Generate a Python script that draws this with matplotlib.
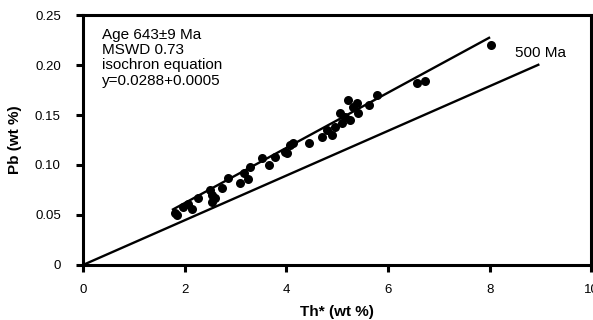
import numpy as np
import matplotlib.pyplot as plt

plt.rcParams['font.family'] = ['Liberation Sans', 'DejaVu Sans']

# --------------------------------------------------------------------------- #
# Data
# --------------------------------------------------------------------------- #
th = [1.81, 1.85, 1.97, 2.07, 2.14, 2.27, 2.50, 2.53, 2.54, 2.60,
      2.73, 2.86, 3.09, 3.16, 3.25, 3.29, 3.52, 3.65, 3.78, 3.98,
      4.01, 4.07, 4.14, 4.44, 4.70, 4.80, 4.90, 4.96, 5.06, 5.09,
      5.16, 5.22, 5.26, 5.32, 5.39, 5.42, 5.62, 5.78, 6.58, 6.73,
      8.03]
pb = [0.052, 0.050, 0.058, 0.061, 0.056, 0.067, 0.075, 0.063, 0.070, 0.067,
      0.077, 0.087, 0.082, 0.092, 0.086, 0.098, 0.107, 0.100, 0.108, 0.113,
      0.112, 0.120, 0.122, 0.122, 0.128, 0.135, 0.130, 0.138, 0.152, 0.142,
      0.148, 0.165, 0.145, 0.158, 0.162, 0.152, 0.160, 0.170, 0.182, 0.184,
      0.220]

# isochron fit drawn over the data, and the 500 Ma reference line
isoX = [1.75, 8.01]
isoIntercept = 0.0067
isoSlope = 0.0276
refX = [0.0, 8.98]
refSlope = 0.02235

xTicks = [0, 2, 4, 6, 8, 10]
yTicks = [0, 0.05, 0.10, 0.15, 0.20, 0.25]
yTickLabels = ["0", "0.05", "0.10", "0.15", "0.20", "0.25"]

infoText = "Age 643\u00b19 Ma\nMSWD 0.73\nisochron equation\ny=0.0288+0.0005"

# --------------------------------------------------------------------------- #
# Plot
# --------------------------------------------------------------------------- #
fig = plt.figure(figsize=(5.93, 3.2), dpi=100)
ax = fig.add_axes([0.14, 0.172, 0.857, 0.781])

isoY = [isoIntercept + isoSlope*x for x in isoX]
refY = [refSlope*x for x in refX]

ax.plot(refX, refY, 'k-', lw=1.7, solid_capstyle='butt')
ax.plot(isoX, isoY, 'k-', lw=1.7, solid_capstyle='butt')
ax.plot(th, pb, 'ko', ms=6.5, mew=0)

ax.text(8.5, 0.212, "500 Ma", fontsize=11, va='center', ha='left')
ax.text(0.37, 0.2375, infoText, fontsize=11, va='top', ha='left', linespacing=1.13)

ax.set_xlim(0, 10)
ax.set_ylim(0, 0.25)
ax.set_xticks(xTicks)
ax.set_yticks(yTicks)
ax.set_yticklabels(yTickLabels)

for s in ax.spines.values():
  s.set_linewidth(2.2)

ax.tick_params(direction='out', length=5, width=2.2, labelsize=9.5)
ax.tick_params(axis='x', pad=9)
ax.tick_params(axis='y', pad=11)

ax.set_xlabel("Th* (wt %)", fontsize=11, fontweight='bold', labelpad=6)
ax.set_ylabel("Pb (wt %)", fontsize=11, fontweight='bold', labelpad=9)

fig.savefig("out.png", dpi=100)
